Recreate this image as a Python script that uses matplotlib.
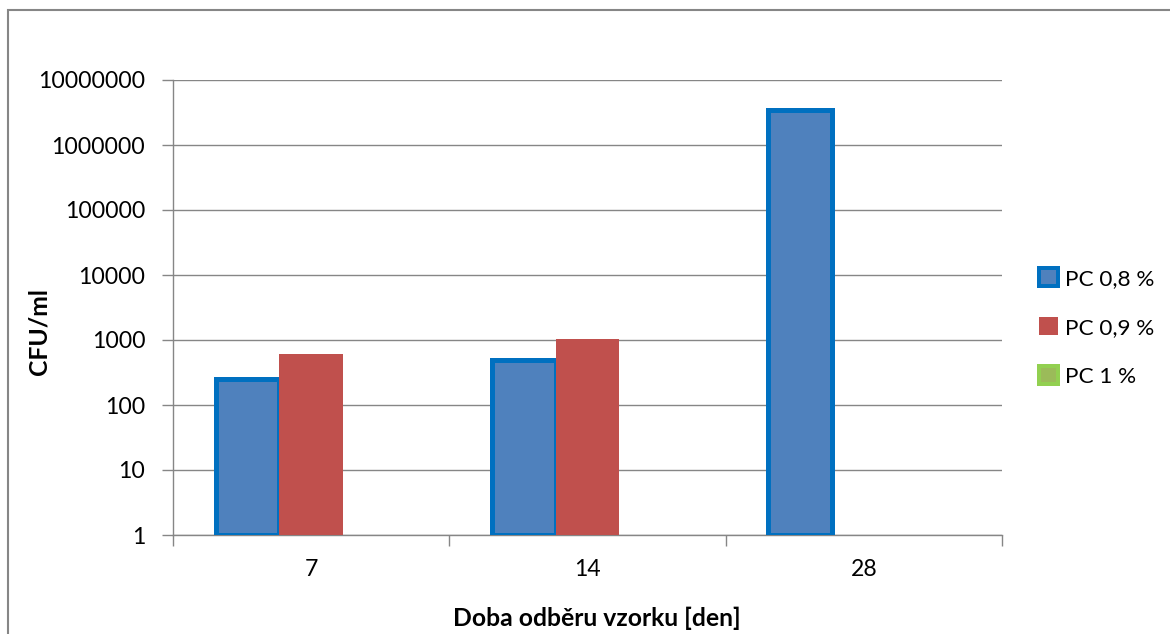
import numpy as np
import matplotlib.pyplot as plt
from matplotlib.patches import Rectangle, Patch
from matplotlib.ticker import FixedLocator, NullFormatter

plt.rcParams['font.family'] = ['Lato', 'DejaVu Sans']

# data
days = ['7', '14', '28']
series = ['PC 0,8 %', 'PC 0,9 %', 'PC 1 %']
pc08 = [250, 500, 3500000]
pc09 = [600, 1050, 0]
pc10 = [0, 0, 0]

fills = ['#4F81BD', '#C0504D', '#9BBB59']
edges = ['#0070C0', '#C0504D', '#92D050']
lws = [3.6, 0, 3.6]

fig = plt.figure(figsize=(11.7, 6.34), dpi=100)
ax = fig.add_axes([173 / 1170, 1 - 535 / 634, 829 / 1170, 455 / 634])

# outer chart frame
fig.patches.append(Rectangle((8 / 1170, -0.05), 1.1, 1 - 10 / 634 + 0.05,
                             transform=fig.transFigure, fill=False,
                             edgecolor='#868686', lw=1.5))

x = np.arange(len(days))
w = 0.23
handles = []
for i, (vals, name) in enumerate(zip([pc08, pc09, pc10], series)):
    v = np.array(vals, dtype=float)
    keep = v > 0
    if keep.any():
        ax.bar(x[keep] + (i - 1) * w, v[keep] - 1, w, bottom=1, color=fills[i],
               edgecolor=edges[i], linewidth=lws[i], zorder=3)
    handles.append(Patch(facecolor=fills[i], edgecolor=edges[i],
                         linewidth=lws[i] * 0.8, label=name))

ax.set_yscale('log')
ax.set_ylim(1, 1e7)
ax.set_xlim(-0.5, 2.5)
yt = [10 ** k for k in range(8)]
ax.yaxis.set_major_locator(FixedLocator(yt))
ax.yaxis.set_minor_locator(FixedLocator([]))
ax.set_yticks(yt)
ax.set_yticklabels([str(t) for t in yt], fontsize=16.6)
ax.yaxis.grid(True, color='#868686', lw=1, zorder=0)
ax.tick_params(axis='y', length=8, width=1, color='#868686', pad=12)

ax.set_xticks([-0.5, 0.5, 1.5, 2.5])
ax.xaxis.set_major_formatter(NullFormatter())
ax.set_xticks(x, minor=True)
ax.set_xticklabels(days, minor=True, fontsize=16.6)
ax.tick_params(axis='x', which='major', length=8, width=1, color='#868686')
ax.tick_params(axis='x', which='minor', length=0, pad=17)

for s in ['top', 'right']:
    ax.spines[s].set_visible(False)
for s in ['left', 'bottom']:
    ax.spines[s].set_color('#868686')
    ax.spines[s].set_linewidth(1)

ax.set_xlabel('Doba odběru vzorku [den]', fontsize=17.8, fontweight='bold')
ax.set_ylabel('CFU/ml', fontsize=17.8, fontweight='bold')
ax.xaxis.set_label_coords(0.511, -0.158)
ax.yaxis.set_label_coords(-0.148, 0.448)

ax.legend(handles=handles, loc='center left', bbox_to_anchor=(1.02, 0.456),
          frameon=False, fontsize=16.2, handlelength=0.85, handleheight=0.85,
          handletextpad=0.3, labelspacing=1.25)

fig.savefig('out.png', dpi=100)
